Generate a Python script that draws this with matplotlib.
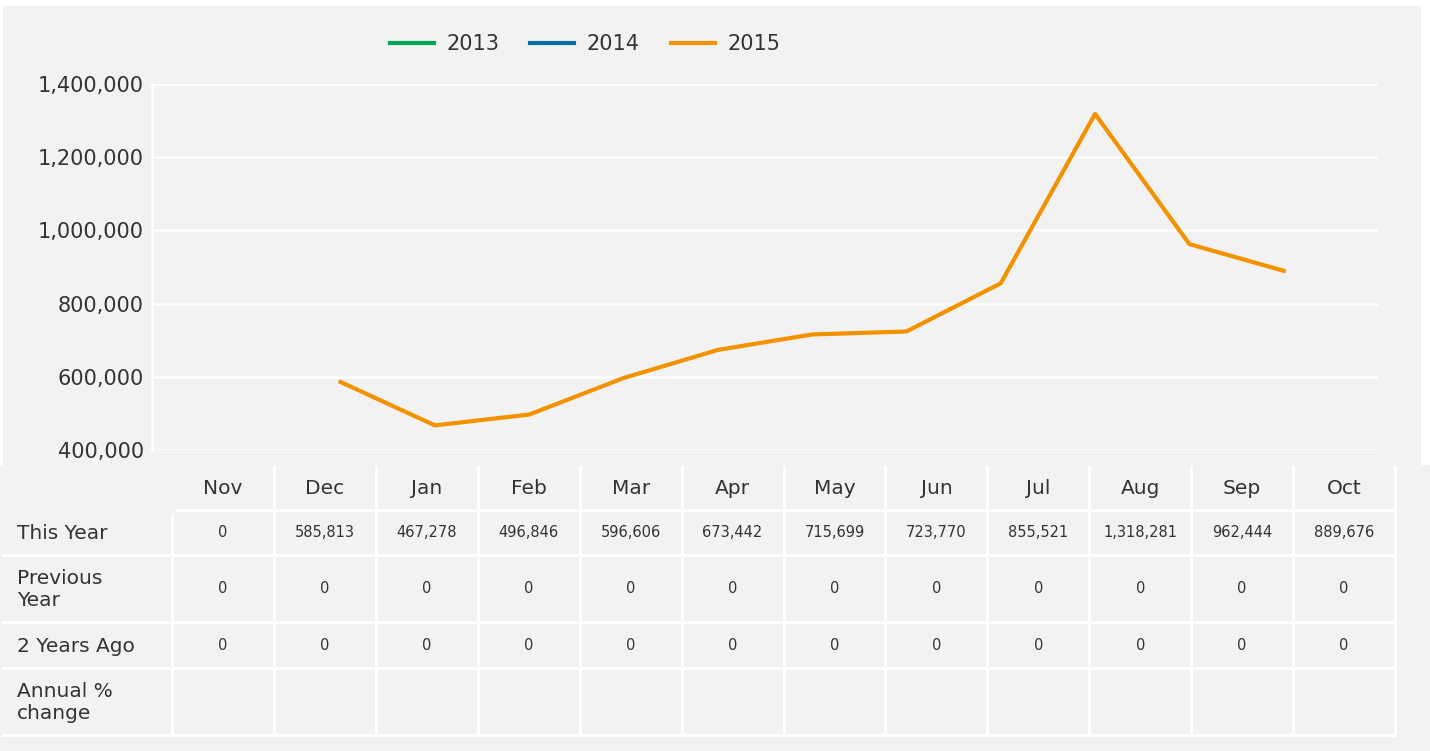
import numpy as np
import matplotlib.pyplot as plt
from matplotlib.patches import Rectangle

# Monthly values
months = ['Nov', 'Dec', 'Jan', 'Feb', 'Mar', 'Apr', 'May', 'Jun', 'Jul', 'Aug', 'Sep', 'Oct']
this_year = [0, 585813, 467278, 496846, 596606, 673442, 715699, 723770, 855521, 1318281, 962444, 889676]
previous_year = [0, 0, 0, 0, 0, 0, 0, 0, 0, 0, 0, 0]
two_years_ago = [0, 0, 0, 0, 0, 0, 0, 0, 0, 0, 0, 0]
annual_change = ['', '', '', '', '', '', '', '', '', '', '', '']

row_labels = ['This Year', 'Previous\nYear', '2 Years Ago', 'Annual %\nchange']
series_years = ['2013', '2014', '2015']
series_colors = ['#00a651', '#0070a0', '#f39200']

BG = '#f2f2f2'
TXT = '#333333'
W, H = 1430, 751

fig = plt.figure(figsize=(W / 100, H / 100), dpi=100, facecolor=BG)

# background overlay in pixel coordinates (also holds the table)
tab = fig.add_axes([0, 0, 1, 1], zorder=0)
tab.set_xlim(0, W)
tab.set_ylim(H, 0)
tab.axis('off')
for x, y, w, h in [(0, 0, W, 6), (0, 0, 3, 465), (1421, 0, 9, 465)]:
    tab.add_patch(Rectangle((x, y), w, h, facecolor='white', edgecolor='none'))

# table geometry
col_left = 172
col_w = (1395 - 172) / 12
row_edges = [465, 510, 555, 622, 668, 735]
lw = 2.2

for i in range(13):
    x = col_left + i * col_w
    if i > 0:
        tab.plot([x, x], [row_edges[0], row_edges[1]], color='white', lw=lw, solid_capstyle='butt')
    tab.plot([x, x], [row_edges[1] + (5 if i == 0 else 0), row_edges[-1]], color='white', lw=lw,
             solid_capstyle='butt')
tab.plot([177, 1395], [row_edges[1], row_edges[1]], color='white', lw=lw)
for y in row_edges[2:]:
    tab.plot([3, 1395], [y, y], color='white', lw=lw)

for i, m in enumerate(months):
    tab.text(col_left + (i + 0.5) * col_w, (row_edges[0] + row_edges[1]) / 2 + 1, m,
             ha='center', va='center', fontsize=14.5, color=TXT)

rows = [this_year, previous_year, two_years_ago, annual_change]
for r, (label, vals) in enumerate(zip(row_labels, rows)):
    yc = (row_edges[r + 1] + row_edges[r + 2]) / 2
    tab.text(17, yc + 1, label, ha='left', va='center', fontsize=14.5, color=TXT, linespacing=1.25)
    for i, v in enumerate(vals):
        s = v if isinstance(v, str) else f'{v:,}'
        tab.text(col_left + (i + 0.5) * col_w, yc, s, ha='center', va='center', fontsize=10.5, color=TXT)

# line chart
ax = fig.add_axes([152 / W, 1 - 450 / H, (1378 - 152) / W, (450 - 84) / H], zorder=1)
ax.set_facecolor('none')
x = np.arange(len(months))
for year, vals, c in zip(series_years, [two_years_ago, previous_year, this_year], series_colors):
    y = np.array(vals, dtype=float)
    y[y == 0] = np.nan
    ax.plot(x, y, color=c, lw=3, label=year, solid_joinstyle='round')

ax.set_xlim(-1, 12)
ax.set_ylim(400000, 1400000)
ax.set_yticks(np.arange(400000, 1400001, 200000))
ax.set_yticklabels([f'{v:,}' for v in range(400000, 1400001, 200000)])
ax.set_xticks([])
ax.tick_params(axis='y', length=0, pad=6, labelsize=15, labelcolor=TXT)
ax.grid(axis='y', color='white', lw=1.8)
ax.set_axisbelow(True)
for s in ['top', 'right', 'bottom']:
    ax.spines[s].set_visible(False)
ax.spines['left'].set_color('white')
ax.spines['left'].set_linewidth(2)

leg = fig.legend(loc='center', bbox_to_anchor=(585 / W, 1 - 44 / H), ncol=3, frameon=False,
                 fontsize=15, handlelength=2.1, handletextpad=0.6, columnspacing=1.5)
for t in leg.get_texts():
    t.set_color(TXT)

fig.savefig('out.png', dpi=100, facecolor=BG)
